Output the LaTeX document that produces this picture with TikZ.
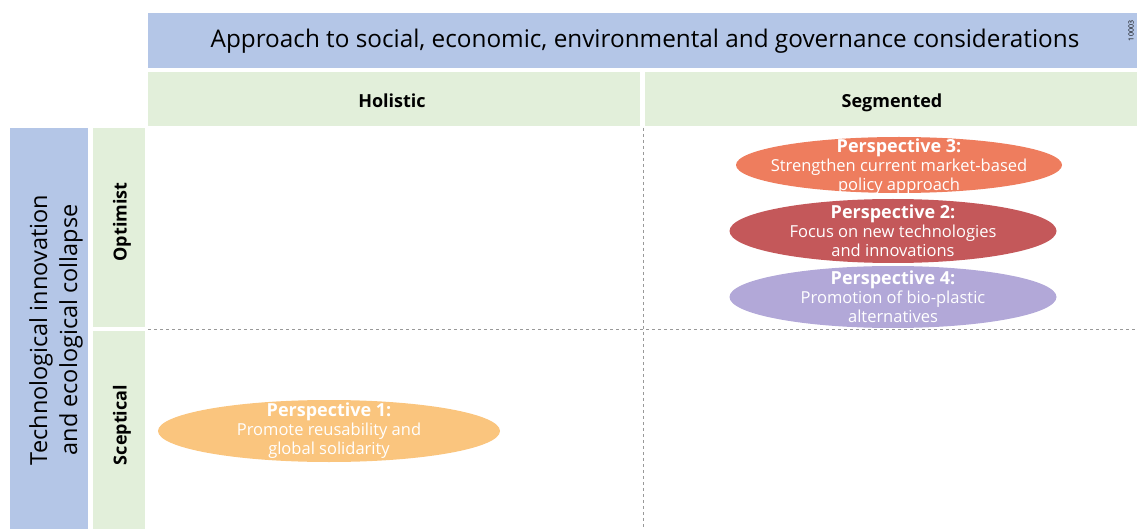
\documentclass[tikz,border=0pt]{standalone}
\usepackage{fontspec}
\setmainfont{Open Sans}
\usetikzlibrary{shapes.geometric}
\definecolor{hdrblue}{HTML}{B4C6E7}
\definecolor{hdrgreen}{HTML}{E2EFDA}
\definecolor{pthree}{HTML}{EE7D5E}
\definecolor{ptwo}{HTML}{C4585A}
\definecolor{pfour}{HTML}{B2A8D8}
\definecolor{pone}{HTML}{FAC57E}
\newcommand{\myptitle}{\bfseries\fontsize{18}{19}\selectfont}
\tikzset{
  x=1pt, y=-1pt,
  hdr/.style={fill=hdrblue, draw=none},
  cat/.style={fill=hdrgreen, draw=none},
  grid/.style={draw=gray!80, dashed, line width=0.7pt},
  persp/.style={ellipse, draw=none, inner sep=0pt},
  ptext/.style={text=white, align=center, inner sep=0pt, font=\fontsize{16.5}{19}\selectfont},
  colhead/.style={font=\bfseries\fontsize{18}{20}\selectfont},
}
\begin{document}
\begin{tikzpicture}
\useasboundingbox (0,0) rectangle (1137,529);
% header
\fill[hdr] (148,13) rectangle (1137,68);
\node[font=\fontsize{24.3}{27}\selectfont] (title) at (645,41) {Approach to social, economic, environmental and governance considerations};
\node[rotate=90, font=\fontsize{7}{8}\selectfont] (code) at (1131,31) {10003};
% column headers
\fill[cat] (148,72) rectangle (640,126);
\fill[cat] (645,72) rectangle (1137,126);
\node[colhead, text depth=0pt] (hol) at (392,101) {Holistic};
\node[colhead, text depth=0pt] (seg) at (892,101) {Segmented};
% row headers
\fill[hdr] (10,128) rectangle (88,529);
\node[rotate=90, align=center, font=\fontsize{23.5}{30}\selectfont] (tech) at (56,330) {Technological innovation\\and ecological collapse};
\fill[cat] (93,128) rectangle (145,327);
\fill[cat] (93,331) rectangle (145,529);
\node[rotate=90, colhead] (opt) at (122,222) {Optimist};
\node[rotate=90, colhead] (scep) at (122,425) {Sceptical};
% grid
\coordinate (h1) at (148,329);
\coordinate (h2) at (1137,329);
\coordinate (v1) at (643,128);
\coordinate (v2) at (643,529);
\draw[grid] (h1) -- (h2);
\draw[grid] (v1) -- (v2);
% perspectives
\node[persp, fill=pthree, minimum width=326pt, minimum height=56pt] (p3) at (899,165) {};
\node[ptext] (p3t) at ([yshift=-2pt]p3.center) {{\myptitle Perspective 3:}\\Strengthen current market-based\\policy approach};
\node[persp, fill=ptwo, minimum width=327pt, minimum height=64pt] (p2) at (893,231) {};
\node[ptext] (p2t) at (p2.center) {{\myptitle Perspective 2:}\\Focus on new technologies\\and innovations};
\node[persp, fill=pfour, minimum width=327pt, minimum height=62pt] (p4) at (893,297) {};
\node[ptext] (p4t) at (p4.center) {{\myptitle Perspective 4:}\\Promotion of bio-plastic\\alternatives};
\node[persp, fill=pone, minimum width=342pt, minimum height=62pt] (p1) at (329,431) {};
\node[ptext] (p1t) at (p1.center) {{\myptitle Perspective 1:}\\Promote reusability and\\global solidarity};
\end{tikzpicture}
\end{document}
